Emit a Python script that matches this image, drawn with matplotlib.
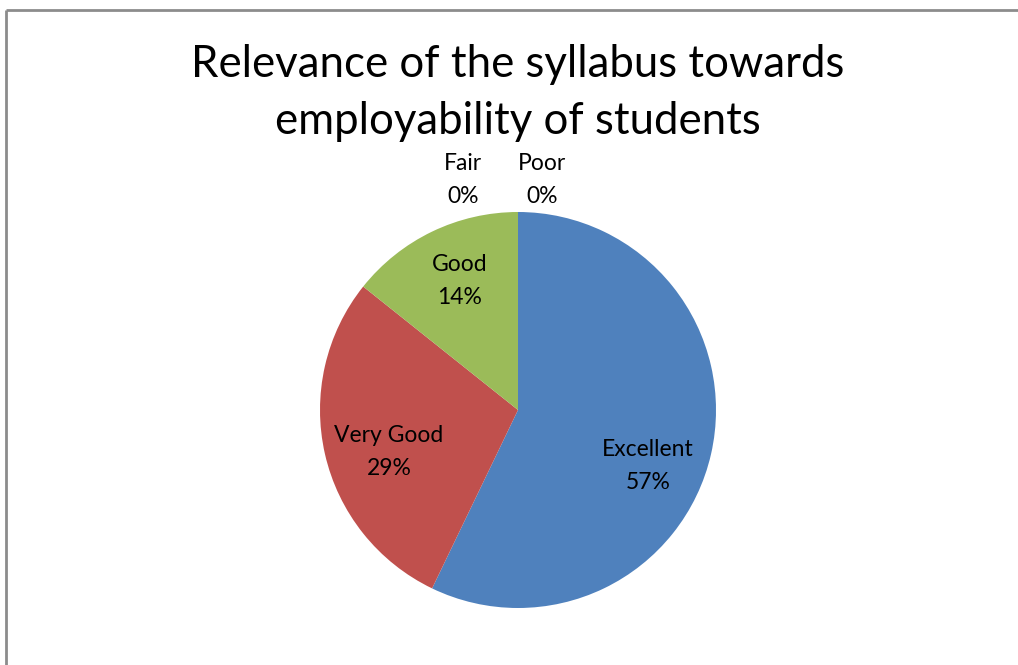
import matplotlib
matplotlib.use('Agg')
import matplotlib.pyplot as plt

# data
categories = ['Excellent', 'Very Good', 'Good', 'Fair', 'Poor']
values = [4, 2, 1, 0, 0]
pct_labels = ['57%', '29%', '14%', '0%', '0%']
colors = ['#4F81BD', '#C0504D', '#9BBB59', '#8064A2', '#4BACC6']

# label spots (pixels from top-left), Excel-like placement
label_pos = [(648, 466), (389, 452), (460, 281), (463, 180), (542, 180)]

plt.rcParams['font.family'] = ['Lato', 'DejaVu Sans']

W, H = 1018, 665
fig = plt.figure(figsize=(W / 100, H / 100), dpi=100)
ax = fig.add_axes([0, 0, 1, 1])

ax.pie(values, colors=colors, startangle=90, counterclock=False,
       center=(518, H - 410), radius=198, frame=True,
       wedgeprops=dict(linewidth=0))
ax.set_xlim(0, W)
ax.set_ylim(0, H)
ax.set_aspect('equal')
ax.axis('off')

for cat, p, (x, y) in zip(categories, pct_labels, label_pos):
    ax.text(x, H - y, cat + '\n' + p, ha='center', va='center',
            fontsize=16.5, linespacing=1.75, color='black')

ax.text(518, H - 93, 'Relevance of the syllabus towards\nemployability of students',
        ha='center', va='center', fontsize=31.5, linespacing=1.5)

# frame lines (top and left only visible)
ax.plot([6, W], [H - 10, H - 10], color='#8c8c8c', lw=2, solid_capstyle='butt')
ax.plot([6, 6], [0, H - 10], color='#8c8c8c', lw=2, solid_capstyle='butt')

fig.savefig('out.png', dpi=100)
